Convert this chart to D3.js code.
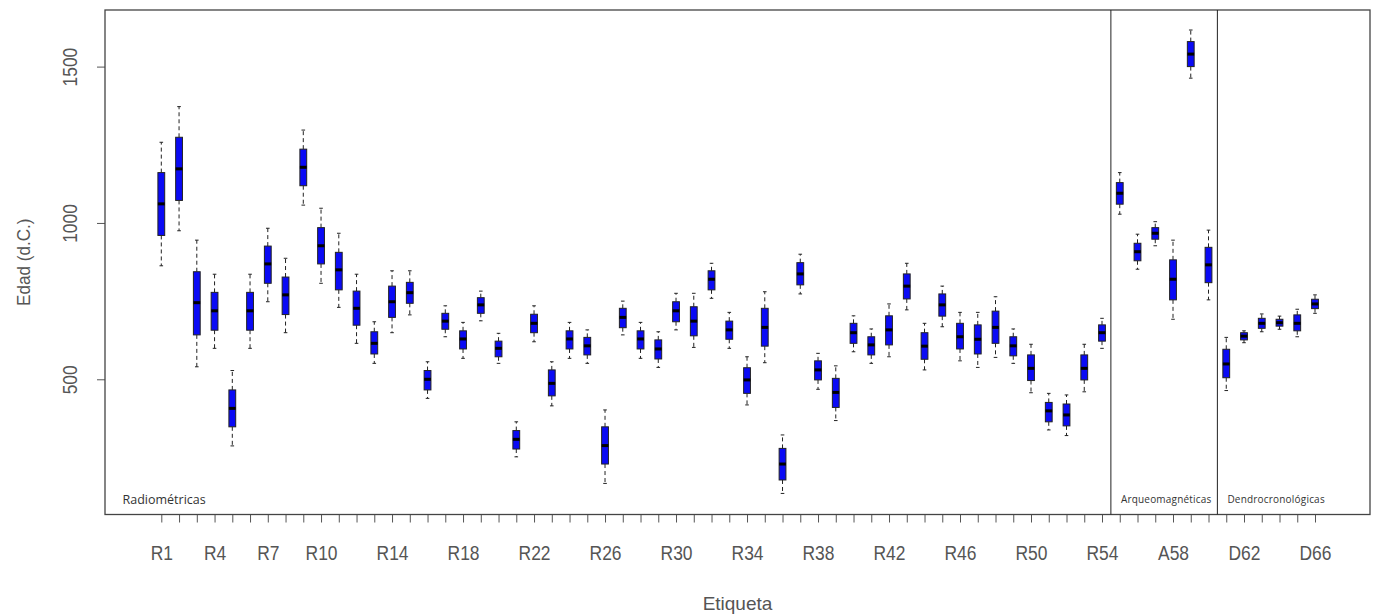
<!DOCTYPE html>
<html>
<head>
<meta charset="utf-8">
<script src="https://cdn.jsdelivr.net/npm/d3@7"></script>
<style>
  body { margin: 0; background: #fff; }
  svg { display: block; }
</style>
</head>
<body>
<div id="chart"></div>
<script>
const width = 1377, height = 616;
const frame = { left: 105, right: 1370, top: 10, bottom: 514.5 };

// sample labels, in plotting order
const labels = [
  "R1","R2","R3","R4","R5","R6","R7","R8","R9","R10","R11","R12","R13","R14","R15","R16","R17","R18",
  "R19","R20","R21","R22","R23","R24","R25","R26","R27","R28","R29","R30","R31","R32","R33","R34","R35","R36",
  "R37","R38","R39","R40","R41","R42","R43","R44","R45","R46","R47","R48","R49","R50","R51","R52","R53","R54",
  "A55","A56","A57","A58","A59","A60",
  "D61","D62","D63","D64","D65","D66"
];
const shownLabels = ["R1","R4","R7","R10","R14","R18","R22","R26","R30","R34","R38","R42","R46","R50","R54","A58","D62","D66"];

// box statistics (years AD)
const whiskerLow = [
  863, 975, 540, 599, 287, 599, 748, 649, 1057, 807, 730, 615, 551, 649, 706, 439, 636, 567,
  687, 551, 252, 620, 415, 567, 551, 167, 642, 567, 538, 658, 602, 759, 599, 418, 553, 135,
  773, 468, 368, 588, 551, 572, 722, 530, 668, 559, 538, 570, 551, 457, 338, 320, 460, 599,
  1028, 852, 927, 692, 1463, 754,
  464, 617, 652, 660, 636, 711
];
const lowerQuartile = [
  960, 1072, 642, 657, 348, 657, 807, 707, 1119, 869, 786, 673, 581, 698, 743, 466, 660, 597,
  711, 572, 277, 649, 447, 597, 578, 229, 665, 597, 565, 684, 639, 786, 628, 455, 606, 178,
  802, 498, 410, 615, 578, 610, 757, 564, 702, 597, 581, 615, 575, 496, 364, 351, 498, 622,
  1060, 879, 948, 754, 1500, 809,
  505, 626, 663, 670, 655, 726
];
const medians = [
  1061, 1173, 745, 719, 407, 719, 869, 770, 1178, 927, 850, 727, 615, 748, 777, 500, 686, 629,
  738, 599, 308, 679, 487, 629, 607, 288, 698, 629, 597, 719, 686, 820, 658, 498, 666, 229,
  837, 530, 458, 649, 610, 658, 798, 606, 738, 636, 628, 666, 607, 535, 399, 386, 535, 649,
  1095, 908, 967, 820, 1540, 866,
  549, 638, 679, 681, 679, 741
];
const upperQuartile = [
  1161, 1274, 844, 778, 466, 778, 926, 827, 1236, 985, 906, 782, 652, 798, 810, 528, 711, 655,
  761, 622, 336, 708, 530, 655, 634, 348, 727, 655, 626, 748, 732, 847, 686, 537, 727, 279,
  873, 559, 503, 679, 636, 703, 837, 649, 773, 679, 674, 718, 636, 578, 426, 421, 578, 674,
  1129, 935, 985, 882, 1580, 922,
  596, 649, 695, 692, 706, 756
];
const whiskerHigh = [
  1258, 1372, 945, 836, 528, 836, 983, 887, 1297, 1047, 967, 836, 684, 847, 847, 556, 735, 682,
  782, 647, 364, 735, 556, 682, 658, 402, 750, 682, 652, 775, 775, 871, 714, 572, 780, 322,
  900, 583, 543, 703, 661, 741, 871, 679, 798, 714, 714, 764, 661, 612, 455, 450, 612, 695,
  1161, 964, 1004, 945, 1617, 977,
  634, 655, 709, 702, 724, 770
];

const groups = ["Radiométricas", "Arqueomagnéticas", "Dendrocronológicas"];
const groupStart = [1, 55, 61];   // first position of each group
const yTicks = [500, 1000, 1500];

const boxes = labels.map((lab, i) => ({
  label: lab,
  pos: i + 1,
  lo: whiskerLow[i], q1: lowerQuartile[i], med: medians[i], q3: upperQuartile[i], hi: whiskerHigh[i]
}));

const svg = d3.select("#chart").append("svg")
  .attr("width", width)
  .attr("height", height);

svg.append("rect").attr("width", width).attr("height", height).attr("fill", "#fff");

// scales
const x = d3.scaleLinear().domain([1, 66]).range([161.3, 1315]);
const y = d3.scaleLinear().domain([67.6, 1681]).range([frame.bottom, frame.top]);

const boxW = 6.8;
const capW = 3.6;
const textCol = "#555";
const axisFont = "'Liberation Sans', Arial, sans-serif";

// axes
const xAxis = svg.append("g")
  .attr("transform", `translate(0, ${frame.bottom})`)
  .call(d3.axisBottom(x)
    .tickValues(boxes.map(d => d.pos))
    .tickSize(8)
    .tickFormat(p => shownLabels.includes(labels[p - 1]) ? labels[p - 1] : ""));
xAxis.select(".domain").remove();
xAxis.selectAll(".tick line").attr("stroke", "#555").attr("stroke-width", 1);
xAxis.selectAll(".tick text")
  .attr("y", null).attr("dy", null)
  .attr("transform", "translate(0,45.5) scale(0.83,1)")
  .attr("fill", textCol)
  .style("font-family", axisFont)
  .style("font-size", "21px");

const yAxis = svg.append("g")
  .attr("transform", `translate(${frame.left}, 0)`)
  .call(d3.axisLeft(y).tickValues(yTicks).tickSize(8).tickFormat(d3.format("d")));
yAxis.select(".domain").remove();
yAxis.selectAll(".tick line").attr("stroke", "#555").attr("stroke-width", 1);
yAxis.selectAll(".tick text")
  .attr("x", null).attr("dy", null)
  .attr("text-anchor", "middle")
  .attr("transform", "translate(-28,0) rotate(-90) scale(0.83,1)")
  .attr("fill", textCol)
  .style("font-family", axisFont)
  .style("font-size", "21px");

// plot frame
svg.append("rect")
  .attr("x", frame.left).attr("y", frame.top)
  .attr("width", frame.right - frame.left)
  .attr("height", frame.bottom - frame.top)
  .attr("fill", "none")
  .attr("stroke", "#444")
  .attr("stroke-width", 1.3);

// group separators
groupStart.slice(1).forEach(p => {
  svg.append("line")
    .attr("x1", x(p - 0.5)).attr("x2", x(p - 0.5))
    .attr("y1", frame.top).attr("y2", frame.bottom)
    .attr("stroke", "#222")
    .attr("stroke-width", 1);
});

// group names
svg.append("text")
  .attr("x", frame.left + 17.5).attr("y", 504)
  .attr("fill", "#333")
  .style("font-family", "'Open Sans', sans-serif")
  .style("font-size", "12.5px")
  .text(groups[0]);
groups.slice(1).forEach((g, i) => {
  svg.append("text")
    .attr("x", x(groupStart[i + 1] - 0.5) + 10).attr("y", 503)
    .attr("fill", "#333")
    .style("font-family", "'Open Sans', sans-serif")
    .style("font-size", "10px")
    .style("letter-spacing", "0.2px")
    .text(g);
});

// boxplots
const bx = svg.append("g").selectAll("g")
  .data(boxes)
  .join("g")
  .attr("transform", d => `translate(${x(d.pos)}, 0)`);

bx.append("line")
  .attr("y1", d => y(d.q3)).attr("y2", d => y(d.hi))
  .attr("stroke", "#222").attr("stroke-dasharray", "4,3");
bx.append("line")
  .attr("y1", d => y(d.q1)).attr("y2", d => y(d.lo))
  .attr("stroke", "#222").attr("stroke-dasharray", "4,3");
bx.append("line")
  .attr("x1", -capW / 2).attr("x2", capW / 2)
  .attr("y1", d => y(d.hi)).attr("y2", d => y(d.hi))
  .attr("stroke", "#222");
bx.append("line")
  .attr("x1", -capW / 2).attr("x2", capW / 2)
  .attr("y1", d => y(d.lo)).attr("y2", d => y(d.lo))
  .attr("stroke", "#222");

bx.append("rect")
  .attr("x", -boxW / 2)
  .attr("y", d => y(d.q3))
  .attr("width", boxW)
  .attr("height", d => y(d.q1) - y(d.q3))
  .attr("fill", "#0a0af5")
  .attr("stroke", "#222")
  .attr("stroke-width", 1);

bx.append("line")
  .attr("x1", -boxW / 2).attr("x2", boxW / 2)
  .attr("y1", d => y(d.med)).attr("y2", d => y(d.med))
  .attr("stroke", "#000")
  .attr("stroke-width", 3);

// axis titles
svg.append("text")
  .attr("x", (frame.left + frame.right) / 2).attr("y", 610)
  .attr("text-anchor", "middle")
  .attr("fill", textCol)
  .style("font-family", axisFont)
  .style("font-size", "19px")
  .text("Etiqueta");

svg.append("text")
  .attr("transform", `translate(30, ${(frame.top + frame.bottom) / 2}) rotate(-90) scale(0.9,1)`)
  .attr("text-anchor", "middle")
  .attr("fill", textCol)
  .style("font-family", axisFont)
  .style("font-size", "19px")
  .text("Edad (d.C.)");
</script>
</body>
</html>
